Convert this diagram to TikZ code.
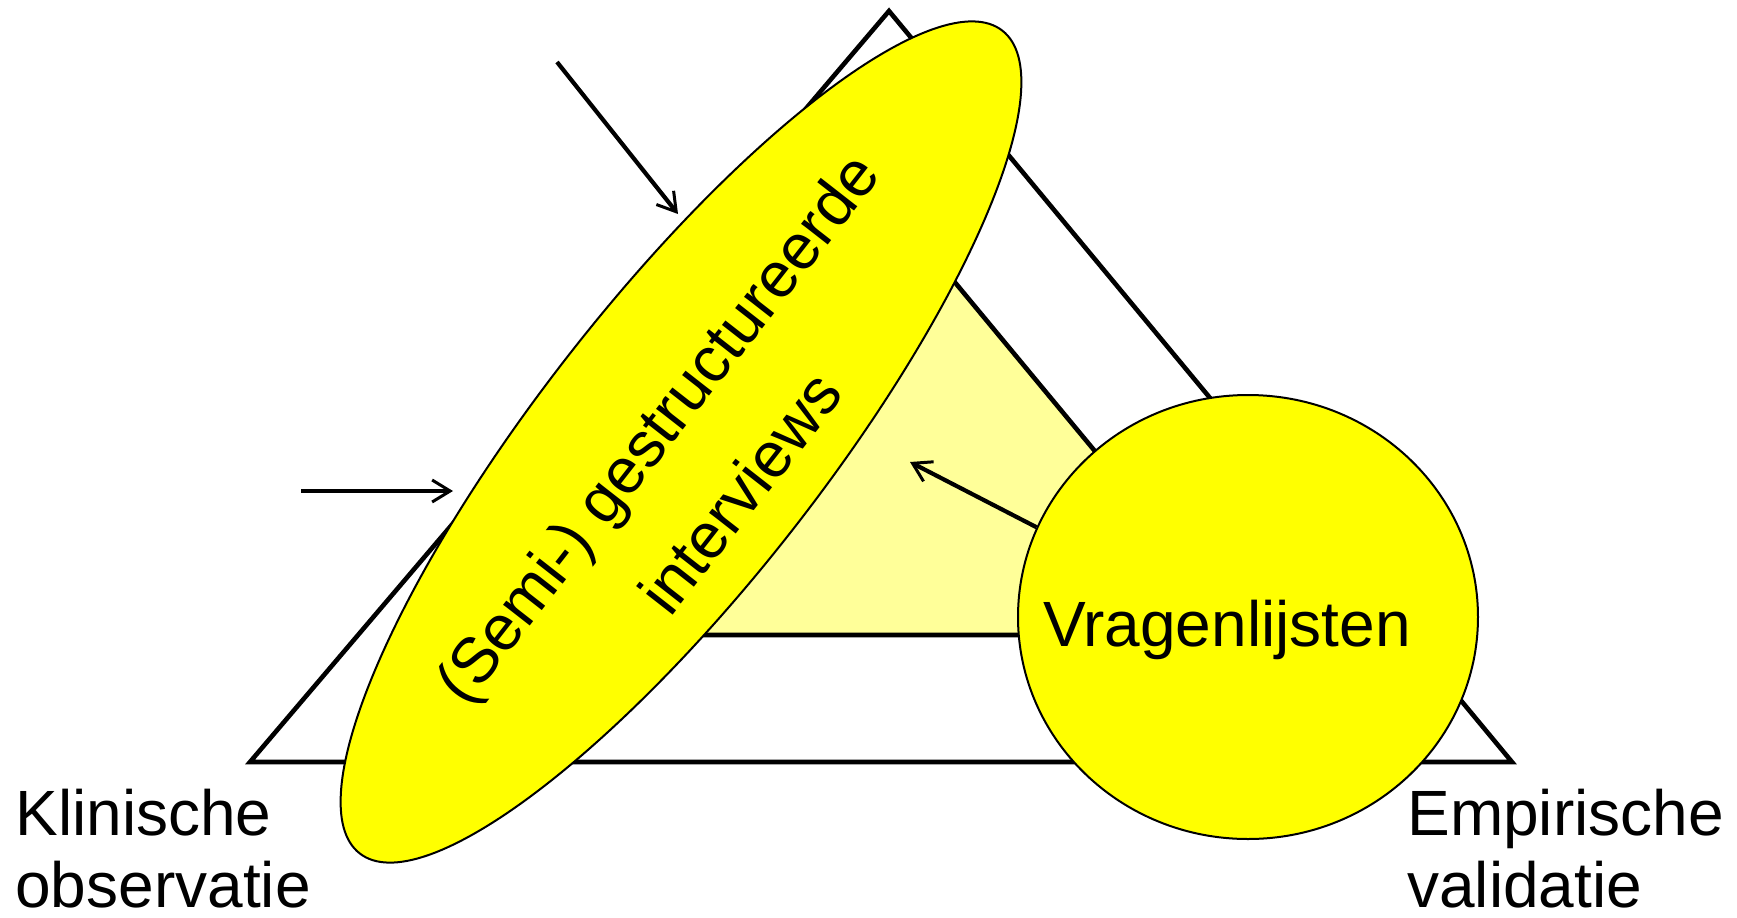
\documentclass[tikz,border=0pt]{standalone}
\usepackage{fontspec}
\setmainfont{Liberation Sans}
\usetikzlibrary{shapes.geometric,arrows.meta}
\definecolor{paleyellow}{RGB}{255,255,153}
\definecolor{brightyellow}{RGB}{255,255,0}
\begin{document}
\begin{tikzpicture}[x=0.5pt,y=-0.5pt,
  edge/.style={line width=2.3pt},
  blob/.style={ellipse, draw, fill=brightyellow, line width=1pt, inner sep=0pt},
  txt/.style={font=\fontsize{32}{36}\selectfont, inner sep=0pt},
  pointer/.style={line width=2.1pt, -{Straight Barb[length=9pt,width=11pt,line width=1.5pt]}}]
  \path[use as bounding box] (0,0) rectangle (1737,917);

  % outer triangle
  \coordinate (top) at (889,11);
  \coordinate (bl) at (250,762);
  \coordinate (br) at (1512,762);
  \draw[edge] (top) -- (bl) -- (br) -- cycle;

  % inner triangle
  \coordinate (itop) at (936,259.5);
  \coordinate (ibl) at (616,635);
  \coordinate (ibr) at (1247.4,635);
  \draw[edge, fill=paleyellow] (itop) -- (ibl) -- (ibr) -- cycle;

  % interviews ellipse
  \node[blob, minimum width=522pt, minimum height=142pt, rotate=52] (interv) at (681,442) {};
  \node[txt, font=\fontsize{32}{53}\selectfont, rotate=52, align=center] (intervtext) at (698,460) {(Semi-) gestructureerde\\interviews};

  % questionnaires circle
  \node[blob, minimum width=230pt, minimum height=222pt] (vrag) at (1248,617) {};
  \node[txt, anchor=base] (vragtext) at (1227,646) {Vragenlijsten};

  % corner labels
  \node[txt, anchor=base west, align=left] (klin) at (15,907) {Klinische\\observatie};
  \node[txt, anchor=base west, align=left] (emp) at (1407,907) {Empirische\\validatie};

  % arrows
  \coordinate (a1s) at (557,62);
  \coordinate (a1e) at (678,214);
  \coordinate (a2s) at (301,491);
  \coordinate (a2e) at (453,491);
  \coordinate (a3e) at (910,462);
  \draw[pointer] (a1s) -- (a1e);
  \draw[pointer] (a2s) -- (a2e);
  \draw[pointer] (vrag.157) -- (a3e);
\end{tikzpicture}
\end{document}
